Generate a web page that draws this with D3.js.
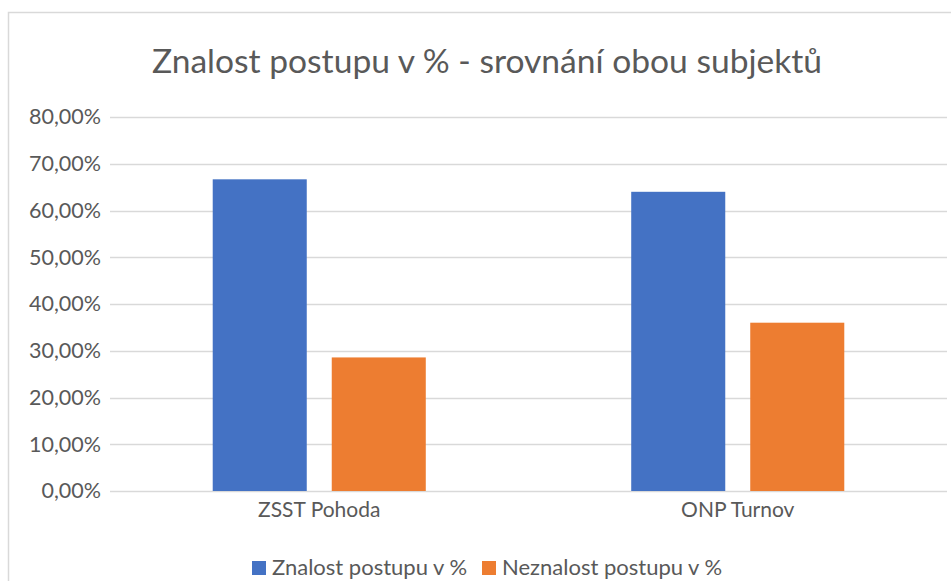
<!doctype html>
<html>
<head>
<meta charset="UTF-8">
<title>Znalost postupu</title>
<script src="https://d3js.org/d3.v7.min.js"></script>
<style>
  body { margin: 0; background: #fff; }
  text { font-family: Lato, "Open Sans", sans-serif; fill: #595959; }
</style>
</head>
<body>
<div id="chart"></div>
<script>
// data
var categories = ["ZSST Pohoda", "ONP Turnov"];
var seriesNames = ["Znalost postupu v %", "Neznalost postupu v %"];
var znalost = [0.6667, 0.64];
var neznalost = [0.2857, 0.36];
var yTicks = [0, 0.1, 0.2, 0.3, 0.4, 0.5, 0.6, 0.7, 0.8];
var colors = ["#4472c4", "#ed7d31"];
var title = "Znalost postupu v % - srovnání obou subjektů";

var W = 951, H = 581;
var plotLeft = 110, plotRight = 947, plotTop = 117, plotBottom = 491;

var cz = d3.formatLocale({decimal: ",", thousands: " ", grouping: [3], currency: ["", " Kč"]});
var fmt = cz.format(".2%");

var svg = d3.select("#chart").append("svg")
    .attr("width", W).attr("height", H);

// chart frame
svg.append("path")
    .attr("d", "M8.5," + H + "V12.5H" + W)
    .attr("fill", "none")
    .attr("stroke", "#d9d9d9")
    .attr("stroke-width", 1.5);

svg.append("text")
    .attr("x", 487).attr("y", 73)
    .attr("text-anchor", "middle")
    .style("font-size", "33.6px")
    .text(title);

var x = d3.scaleBand().domain(categories).range([plotLeft, plotRight]);
var x1 = d3.scaleBand().domain(seriesNames).range([0, x.bandwidth()])
    .paddingInner(0.21).paddingOuter(0.863);
var y = d3.scaleLinear().domain([0, 0.8]).range([plotBottom, plotTop]);

// gridlines
svg.append("g").selectAll("line").data(yTicks).join("line")
    .attr("x1", plotLeft).attr("x2", plotRight)
    .attr("y1", function(d) { return Math.round(y(d)) + 0.5; })
    .attr("y2", function(d) { return Math.round(y(d)) + 0.5; })
    .attr("stroke", "#d9d9d9")
    .attr("stroke-width", 1.5);

var yAxis = svg.append("g")
    .attr("transform", "translate(" + (plotLeft - 9) + ",0)")
    .call(d3.axisLeft(y).tickValues(yTicks).tickFormat(fmt).tickSize(0).tickPadding(0));
yAxis.select(".domain").remove();
yAxis.selectAll("text").style("font-size", "21.5px").attr("fill", "#595959");

var rows = categories.map(function(c, i) { return {cat: c, vals: [znalost[i], neznalost[i]]}; });

var groups = svg.append("g").selectAll("g").data(rows).join("g")
    .attr("transform", function(d) { return "translate(" + x(d.cat) + ",0)"; });

groups.selectAll("rect")
    .data(function(d) { return d.vals.map(function(v, j) { return {s: seriesNames[j], v: v, j: j}; }); })
    .join("rect")
    .attr("x", function(d) { return x1(d.s); })
    .attr("width", x1.bandwidth())
    .attr("y", function(d) { return y(d.v); })
    .attr("height", function(d) { return y(0) - y(d.v); })
    .attr("fill", function(d) { return colors[d.j]; });

var xAxis = svg.append("g")
    .attr("transform", "translate(0," + plotBottom + ")")
    .call(d3.axisBottom(x).tickSize(0).tickPadding(11));
xAxis.select(".domain").remove();
xAxis.selectAll("text").style("font-size", "21px").attr("fill", "#595959")
    .attr("dy", "0.71em");

// legend
var legend = svg.append("g").attr("transform", "translate(252,561)");
var legX = [0, 230];
var li = legend.selectAll("g").data(seriesNames).join("g")
    .attr("transform", function(d, i) { return "translate(" + legX[i] + ",0)"; });
li.append("rect").attr("width", 14).attr("height", 14)
    .attr("fill", function(d, i) { return colors[i]; });
li.append("text").attr("x", 20).attr("y", 14)
    .style("font-size", "22px")
    .text(function(d) { return d; });
</script>
</body>
</html>
